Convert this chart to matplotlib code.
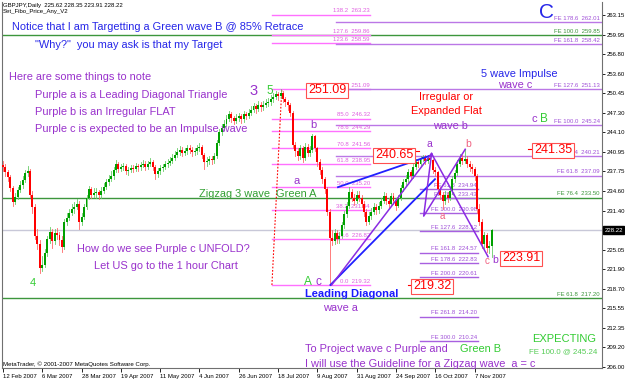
import matplotlib
matplotlib.use("Agg")
import matplotlib.pyplot as plt

# ---------------- data ----------------
first_open = 238.8
closes = [
    238.4, 237.6, 236.8, 235.0, 232.8, 233.6, 234.8, 235.5, 236.4, 237.5,
    237.8, 234.0, 232.0, 227.3, 226.0, 222.0, 222.5, 224.5, 226.8, 228.0,
    226.5, 227.8, 227.5, 226.6, 225.5, 229.5, 230.2, 231.0, 231.6, 232.0,
    232.5, 229.5, 230.4, 232.0, 233.5, 234.9, 234.0, 234.3, 234.4, 233.9,
    234.6, 235.3, 236.0, 236.6, 237.0, 238.0, 238.9, 238.2, 238.4, 238.7,
    237.8, 238.0, 238.3, 238.1, 238.6, 238.4, 238.8, 239.0, 238.5, 238.9,
    239.3, 238.4, 237.3, 237.8, 238.3, 238.5, 238.9, 239.2, 239.5, 240.0,
    240.5, 240.9, 241.3, 240.8, 241.0, 241.5, 241.3, 240.9, 241.0, 241.5,
    241.8, 240.4, 239.3, 239.5, 239.8, 239.6, 240.2, 242.3, 244.1, 244.8,
    245.5, 246.3, 247.0, 246.4, 246.0, 246.5, 246.7, 246.2, 247.0, 246.8,
    247.3, 247.8, 248.3, 247.9, 248.6, 248.2, 248.6, 248.9, 249.0, 249.5,
    249.9, 250.3, 250.0, 250.5, 249.5, 249.0, 248.5, 247.3, 242.0, 241.0,
    240.3, 241.5, 240.0, 241.8, 240.8, 241.3, 243.5, 241.5, 239.3, 238.0,
    236.5, 234.9, 231.2, 227.0, 226.5, 227.8, 226.8, 227.3, 229.0, 230.8,
    232.2, 234.4, 233.5, 233.0, 234.0, 233.5, 232.5, 231.2, 229.6, 230.5,
    231.2, 232.0, 231.5, 232.2, 233.0, 233.8, 233.0, 232.5, 233.8, 233.0,
    232.2, 233.5, 235.0, 236.0, 236.5, 237.6, 237.0, 238.5, 239.3, 239.0,
    239.8, 240.1, 239.5, 240.0, 239.6, 238.0, 237.6, 234.9, 234.0, 233.0,
    234.0, 233.5, 234.5, 236.5, 237.5, 239.0, 240.0, 239.5, 239.8, 239.0,
    238.5, 238.1, 237.0, 231.6, 229.6, 226.0, 227.4, 225.3, 225.62, 228.22,
]
highs = [
    239.4, 238.9, 238.0, 237.2, 235.4, 234.2, 235.3, 236.2, 237.0, 238.0,
    238.6, 238.2, 234.6, 232.4, 228.4, 226.6, 224.0, 225.2, 227.3, 228.8,
    228.4, 228.4, 228.6, 227.9, 227.2, 230.0, 231.0, 231.6, 232.4, 232.8,
    233.2, 232.9, 231.0, 232.5, 234.0, 235.4, 235.3, 235.0, 235.0, 234.8,
    235.2, 235.8, 236.6, 237.2, 237.8, 238.5, 239.6, 239.3, 239.0, 239.2,
    239.0, 238.5, 238.8, 238.8, 239.1, 239.0, 239.3, 239.6, 239.4, 239.5,
    239.9, 239.6, 238.8, 238.3, 238.8, 239.0, 239.4, 239.8, 240.1, 240.6,
    241.0, 241.5, 241.9, 241.7, 241.6, 242.0, 242.0, 241.7, 241.6, 242.1,
    242.4, 242.1, 240.8, 240.1, 240.3, 240.2, 240.8, 242.8, 244.6, 245.4,
    246.1, 246.9, 247.6, 247.4, 246.8, 247.1, 247.3, 247.1, 247.6, 247.4,
    247.9, 248.3, 248.9, 248.7, 249.2, 249.0, 249.2, 249.5, 249.6, 250.1,
    250.5, 250.8, 250.7, 251.09, 250.8, 249.9, 249.4, 248.9, 247.6, 242.6,
    241.6, 242.0, 241.9, 242.4, 242.2, 241.9, 243.8, 243.7, 241.8, 239.7,
    238.4, 236.9, 235.3, 231.6, 228.3, 228.4, 228.2, 228.0, 229.5, 231.3,
    232.8, 235.2, 234.9, 234.1, 234.6, 234.5, 234.0, 232.9, 231.6, 231.1,
    231.8, 232.6, 232.4, 232.8, 233.5, 234.4, 234.2, 233.5, 234.3, 234.2,
    233.4, 234.0, 235.5, 236.5, 237.1, 238.1, 238.0, 239.0, 239.8, 239.7,
    240.3, 240.5, 240.4, 240.4, 240.65, 239.7, 238.4, 237.9, 235.3, 234.4,
    234.5, 234.4, 235.0, 237.0, 238.0, 239.6, 240.6, 240.5, 241.35, 240.2,
    239.4, 239.0, 238.5, 237.3, 232.4, 230.0, 228.0, 227.8, 226.4, 228.35,
]
lows = [
    237.9, 237.0, 236.2, 234.6, 232.2, 232.4, 233.2, 234.4, 235.1, 236.0,
    237.0, 233.6, 231.0, 226.8, 225.2, 221.2, 221.6, 222.2, 224.0, 226.2,
    225.3, 226.0, 226.8, 225.8, 224.6, 225.2, 229.0, 229.8, 230.6, 231.0,
    231.6, 228.4, 229.0, 230.0, 231.6, 233.2, 233.4, 233.6, 233.5, 233.3,
    233.4, 234.2, 234.9, 235.6, 236.2, 236.6, 237.6, 237.7, 237.8, 238.0,
    237.3, 237.2, 237.6, 237.6, 237.8, 237.9, 238.0, 238.4, 238.0, 238.1,
    238.6, 238.0, 236.6, 236.9, 237.4, 237.9, 238.1, 238.5, 238.8, 239.1,
    239.6, 240.1, 240.5, 240.3, 240.4, 240.6, 240.8, 240.3, 240.4, 240.6,
    241.1, 240.0, 238.2, 238.7, 239.0, 239.0, 239.2, 239.9, 242.0, 243.7,
    244.4, 245.1, 245.9, 245.8, 245.4, 245.6, 246.0, 245.6, 245.8, 246.2,
    246.4, 246.9, 247.4, 247.3, 247.5, 247.6, 247.8, 248.2, 248.3, 248.6,
    249.1, 249.5, 249.4, 249.7, 249.0, 248.3, 247.8, 246.8, 241.5, 240.2,
    239.6, 239.8, 239.3, 239.6, 240.2, 240.3, 240.9, 241.0, 238.6, 237.4,
    235.8, 234.3, 230.6, 219.32, 225.8, 225.9, 226.2, 226.1, 226.9, 228.6,
    230.3, 231.8, 232.9, 232.3, 232.6, 232.9, 231.9, 230.5, 229.0, 229.2,
    230.0, 230.8, 230.9, 231.0, 231.8, 232.6, 232.4, 231.8, 232.1, 232.4,
    231.5, 231.9, 233.1, 234.6, 235.6, 236.1, 236.5, 236.7, 238.1, 238.5,
    238.6, 239.4, 239.0, 239.2, 239.2, 237.5, 237.0, 234.3, 233.2, 231.6,
    232.5, 232.8, 233.1, 234.1, 236.1, 237.1, 238.6, 239.0, 239.1, 238.5,
    237.9, 237.5, 236.4, 231.0, 229.0, 225.4, 225.2, 224.6, 224.5, 223.91,
]

date_bars = [0, 16, 32, 48, 64, 80, 96, 112, 128, 144, 160, 176, 192]
date_labels = ["12 Feb 2007", "6 Mar 2007", "28 Mar 2007", "19 Apr 2007", "11 May 2007",
               "4 Jun 2007", "26 Jun 2007", "18 Jul 2007", "9 Aug 2007", "31 Aug 2007",
               "24 Sep 2007", "16 Oct 2007", "7 Nov 2007"]
price_ticks = [263.15, 259.95, 256.80, 253.60, 250.45, 247.30, 244.10, 240.95, 237.75,
               234.60, 231.40, 225.05, 221.90, 218.70, 215.55, 212.35, 209.20, 206.00]
price_tick_labels = ["263.15", "259.95", "256.80", "253.60", "250.45", "247.30", "244.10",
                     "240.95", "237.75", "234.60", "231.40", "225.05", "221.90", "218.70",
                     "215.55", "212.35", "209.20", "206.00"]
last_price = 228.22

retr_levels = [263.23, 259.86, 258.59, 251.09, 246.32, 244.29, 241.56, 238.95, 235.20, 231.44, 226.82, 219.32]
retr_names = ["138.2", "127.6", "123.6", "100.0", "85.0", "78.6", "70.8", "61.8", "50.0", "38.2", "23.6", "0.0"]
fe_upper_levels = [262.01, 258.42, 251.13, 245.24, 240.21, 237.09]
fe_upper_names = ["FE 178.6", "FE 161.8", "FE 127.6", "FE 100.0", "FE 76.4", "FE 61.8"]
fe_green_levels = [259.85, 233.50, 217.20]
fe_green_names = ["FE 100.0", "FE 76.4", "FE 61.8"]
fe_lower_levels = [234.94, 233.43, 230.98, 228.12, 224.57, 222.83, 220.61, 214.20, 210.24]
fe_lower_names = ["FE 61.8", "FE 76.4", "FE 100.0", "FE 127.6", "FE 161.8", "FE 178.6",
                  "FE 200.0", "FE 261.8", "FE 300.0"]

# wave drawing anchors (bar index, price)
blue_upper = ([136.4, 174.7], [235.20, 240.42])
blue_lower = ([133.3, 175.9], [219.32, 236.50])
purple_a_line = ([133.8, 174.5], [219.32, 240.65])
purple_zigzag = ([174.5, 171.3, 188.2], [240.65, 230.50, 241.35])
purple_ac = ([174.5, 197.5], [240.65, 223.91])
retr_diag = ([109.5, 113.5], [219.32, 251.09])

# ---------------- figure ----------------
W, H = 625, 380
fig = plt.figure(figsize=(W / 100, H / 100), dpi=100)
ax = fig.add_axes([2 / W, 12 / H, 600 / W, 366 / H])
ax.set_xlim(-0.41, 243.9)
ax.set_ylim(205.84, 265.26)
FONT = "Liberation Sans"

PURPLE = "#9932CC"
BLUE = "#2626e8"
RED = "#ff0000"
GREEN = "#33a033"
LIME = "#33cc33"
PINK = "#ff70ff"
VIOLET = "#bb77e6"
GREENLINE = "#3c963c"
LBL = 4.3

xmin, xmax = ax.get_xlim()

# horizontal full-width lines
ax.axhline(last_price, color="#c8c8d8", lw=1, zorder=1)
for lv, nm in zip(fe_green_levels, fe_green_names):
    ax.axhline(lv, color=GREENLINE, lw=1, zorder=1)
    ax.text(243.0, lv + 0.2, f"{nm}  {lv:.2f}", color=GREENLINE, fontsize=LBL,
            ha="right", va="bottom", family=FONT, zorder=3)

# retracement lines
for lv, nm in zip(retr_levels, retr_names):
    ax.plot([109.5, 149.4], [lv, lv], color=PINK, lw=1, zorder=1)
    ax.text(149.4, lv + 0.2, f"{nm}  {lv:.2f}", color="#e060e0", fontsize=LBL,
            ha="right", va="bottom", family=FONT, zorder=3)
ax.plot(*retr_diag, color=RED, lw=0.8, ls=(0, (1.5, 1.5)), zorder=2)

# upper FE lines
for lv, nm in zip(fe_upper_levels, fe_upper_names):
    ax.plot([135.6, xmax], [lv, lv], color=VIOLET, lw=1, zorder=1)
    ax.text(243.0, lv + 0.2, f"{nm}  {lv:.2f}", color="#a050d8", fontsize=LBL,
            ha="right", va="bottom", family=FONT, zorder=3)

# lower FE lines
for lv, nm in zip(fe_lower_levels, fe_lower_names):
    ax.plot([169.8, 193.4], [lv, lv], color="#a860e0", lw=1, zorder=1)
    ax.text(193.0, lv + 0.2, f"{nm}  {lv:.2f}", color="#a050d8", fontsize=LBL,
            ha="right", va="bottom", family=FONT, zorder=3)

# candles
opens = [first_open] + closes[:-1]
for i, (o, h, l, c) in enumerate(zip(opens, highs, lows, closes)):
    col = "#00a000" if c >= o else "#ff0000"
    wick = "#66cc66" if c >= o else "#ff6666"
    ax.plot([i, i], [l, h], color=wick, lw=0.6, zorder=4)
    ax.bar(i, max(abs(c - o), 0.12), bottom=min(o, c), width=0.8, color=col,
           linewidth=0, zorder=5)

# wave lines
ax.plot(*blue_upper, color="#2020ff", lw=1.3, zorder=6)
ax.plot(*blue_lower, color="#2020ff", lw=1.3, zorder=6)
ax.plot(*purple_a_line, color="#8a2be2", lw=1.1, zorder=6)
ax.plot(*purple_zigzag, color="#8a2be2", lw=1.1, zorder=6)
ax.plot(*purple_ac, color="#8a2be2", lw=1.1, zorder=6)

# axes styling
ax.spines["top"].set_visible(False)
for s in ["right", "bottom", "left"]:
    ax.spines[s].set_color("#707070")
    ax.spines[s].set_linewidth(0.8)
ax.yaxis.tick_right()
ax.set_yticks(price_ticks)
ax.set_yticklabels(price_tick_labels, fontsize=4.3, family=FONT)
ax.tick_params(axis="y", length=2, pad=1.2, width=0.6)
ax.set_xticks(date_bars)
ax.set_xticklabels(date_labels, fontsize=4.3, family=FONT, ha="left")
ax.tick_params(axis="x", length=3, pad=1.2, width=0.6)

ax.text(1.004, last_price, "228.22", transform=ax.get_yaxis_transform(), fontsize=4.3,
        color="white", va="center", ha="left", family=FONT,
        bbox=dict(boxstyle="square,pad=0.2", fc="black", ec="black"), zorder=10)


def ftext(x, y, s, **kw):
    kw.setdefault("family", FONT)
    fig.text(x / W, 1 - y / H, s, va="center", **kw)


# header
ftext(3, 5, "GBPJPY,Daily  225.62 228.35 223.91 228.22", fontsize=4.3, color="black")
ftext(3, 12, "Set_Fibo_Price_Any_V2", fontsize=4.3, color="black")
ftext(3, 364, "MetaTrader, \u00a9 2001-2007 MetaQuotes Software Corp.", fontsize=4.4, color="black")

# main annotations
ftext(12, 27, "Notice that I am Targetting a Green wave B @ 85% Retrace", fontsize=7.9, color=BLUE)
ftext(35, 45, "\"Why?\"  you may ask is that my Target", fontsize=7.9, color=BLUE)
ftext(9, 77, "Here are some things to note", fontsize=7.9, color=PURPLE)
ftext(35, 95, "Purple a is a Leading Diagonal Triangle", fontsize=7.9, color=PURPLE)
ftext(35, 112, "Purple b is an Irregular FLAT", fontsize=7.9, color=PURPLE)
ftext(35, 129, "Purple c is expected to be an Impulse wave", fontsize=7.9, color=PURPLE)
ftext(199, 194, "Zigzag 3 wave  Green A", fontsize=7.9, color=GREEN)
ftext(77, 249, "How do we see Purple c UNFOLD?", fontsize=7.9, color=PURPLE)
ftext(94, 266, "Let US go to the 1 hour Chart", fontsize=7.9, color=PURPLE)
ftext(33, 283, "4", fontsize=8, color=LIME, ha="center")
ftext(254, 91, "3", fontsize=10.5, color=PURPLE, ha="center")
ftext(270, 91, "5", fontsize=8.5, color=LIME, ha="center")
ftext(313, 125, "b", fontsize=8, color=PURPLE, ha="center")
ftext(297, 181, "a", fontsize=8, color=PURPLE, ha="center")
ftext(308, 282, "A", fontsize=8.5, color=LIME, ha="center")
ftext(318, 282, "c", fontsize=8.5, color=PURPLE, ha="center")
ftext(305, 294, "Leading Diagonal", fontsize=8, color="#1a1aff", fontweight="bold")
ftext(323, 308, "wave a", fontsize=7.9, color=PURPLE)
ftext(446, 97, "Irregular or", fontsize=7.9, color=RED, ha="center")
ftext(446, 111, "Expanded Flat", fontsize=7.9, color=RED, ha="center")
ftext(450, 126, "wave b", fontsize=7.9, color=PURPLE, ha="center")
ftext(519, 74, "5 wave Impulse", fontsize=7.9, color=BLUE, ha="center")
ftext(515, 85, "wave c", fontsize=7.9, color=PURPLE, ha="center")
ftext(534, 119, "c", fontsize=8, color=PURPLE, ha="center")
ftext(544, 119, "B", fontsize=8.5, color=LIME, ha="center")
ftext(547, 13, "C", fontsize=15, color=BLUE, ha="center")
ftext(429, 144, "a", fontsize=7.5, color=PURPLE, ha="center")
ftext(468, 144, "b", fontsize=7.5, color="#f06080", ha="center")
ftext(442, 216, "a", fontsize=7, color="#f06080", ha="center")
ftext(487, 261, "c", fontsize=7, color="#f06080", ha="center")
ftext(495, 260, "b", fontsize=7.5, color=PURPLE, ha="center")
ftext(564, 339, "EXPECTING", fontsize=8, color=LIME, ha="center")
ftext(563, 352, "FE 100.0 @ 245.24", fontsize=5.7, color="#55cc55", ha="center")
ftext(305, 349, "To Project wave c Purple and", fontsize=7.9, color=PURPLE)
ftext(460, 349, "Green B", fontsize=7.9, color=LIME)
ftext(305, 364, "I will use the Guideline for a Zigzag wave  a = c", fontsize=7.9, color=PURPLE)

# boxed price labels
box = dict(boxstyle="square,pad=0.12", fc="white", ec="#ff5050", lw=0.8)
ftext(327, 90, "251.09", fontsize=9, color=RED, ha="center", bbox=box)
ftext(394, 155, "240.65", fontsize=9, color=RED, ha="center", bbox=box)
ftext(553, 150, "241.35", fontsize=9, color=RED, ha="center", bbox=box)
ftext(432, 286, "219.32", fontsize=9, color=RED, ha="center", bbox=box)
ftext(521, 258, "223.91", fontsize=9, color=RED, ha="center", bbox=box)
ax.plot([165.0, 166.6], [219.32, 219.32], color=RED, lw=0.8, zorder=7)
ax.plot([213.8, 216.2], [241.35, 241.35], color=RED, lw=0.8, zorder=7)
ax.plot([167.3, 169.5], [241.0, 241.0], color=RED, lw=0.8, zorder=7)

fig.savefig("out.png", dpi=100)
